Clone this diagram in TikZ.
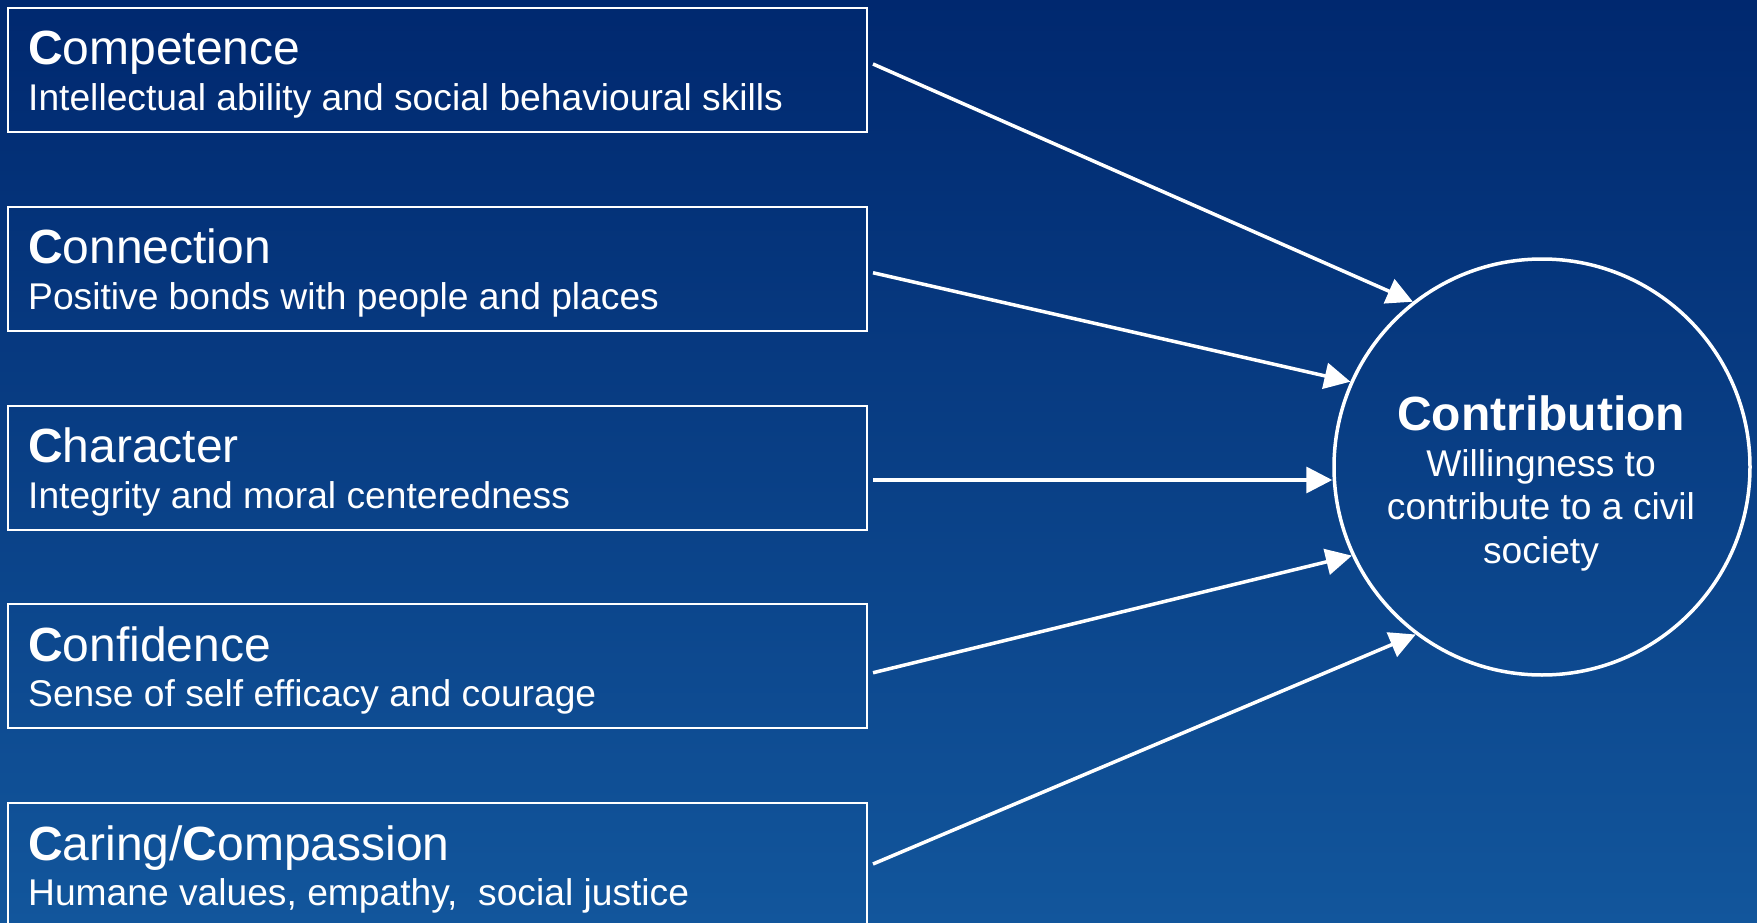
\documentclass[tikz,border=0pt]{standalone}
\usepackage{fontspec}
\setmainfont{Liberation Sans}
\usetikzlibrary{arrows.meta,calc}
\definecolor{bgtop}{HTML}{00286F}
\definecolor{bgbot}{HTML}{12569C}
\begin{document}
\begin{tikzpicture}[x=1pt,y=-1pt,
  cbox/.style={draw=white,line width=2pt,rectangle,minimum width=859pt,minimum height=124pt,anchor=north west,inner sep=0pt},
  ctitle/.style={text=white,anchor=base west,inner sep=0pt,font=\fontsize{48}{54}\selectfont},
  csub/.style={text=white,anchor=base west,inner sep=0pt,font=\fontsize{37.2}{43}\selectfont},
  conn/.style={white,line width=3.5pt,-{Triangle[length=26pt,width=26pt]}},
  ctext/.style={text=white,anchor=base,inner sep=0pt,font=\fontsize{37.2}{43}\selectfont},
]
\useasboundingbox (0,0) rectangle (1757,923);
\clip (0,0) rectangle (1757,923);
\shade[top color=bgtop,bottom color=bgbot] (0,0) rectangle (1757,923);

\node[cbox] (b1) at (7,7) {};
\node[cbox] (b2) at (7,205.75) {};
\node[cbox] (b3) at (7,404.5) {};
\node[cbox] (b4) at (7,603.25) {};
\node[cbox] (b5) at (7,802) {};

\node[ctitle] (t1) at (28,65) {\textbf{C}ompetence};
\node[csub] (s1) at (28,110.5) {Intellectual ability and social behavioural skills};
\node[ctitle] (t2) at (28,263.75) {\textbf{C}onnection};
\node[csub] (s2) at (28,309.25) {Positive bonds with people and places};
\node[ctitle] (t3) at (28,462.5) {\textbf{C}haracter};
\node[csub] (s3) at (28,508) {Integrity and moral centeredness};
\node[ctitle] (t4) at (28,661.25) {\textbf{C}onfidence};
\node[csub] (s4) at (28,706.75) {Sense of self efficacy and courage};
\node[ctitle] (t5) at (28,860) {\textbf{C}aring/\textbf{C}ompassion};
\node[csub] (s5) at (28,905.5) {Humane values, empathy,~ social justice};

\node[draw=white,line width=3.5pt,circle,minimum size=416pt,inner sep=0pt] (c) at (1542,467) {};
\node[ctext,font=\bfseries\fontsize{48}{54}\selectfont] (ct) at (1541,430) {Contribution};
\node[ctext] (d1) at (1541,476) {Willingness to};
\node[ctext] (d2) at (1541,519) {contribute to a civil};
\node[ctext] (d3) at (1541,563) {society};

\draw[conn] ($(b1.east)+(5,-6)$) -- (c.128);
\draw[conn] ($(b2.east)+(5,4)$) -- (c.156);
\draw[conn] ($(b3.east |- c.west)+(5,13)$) -- ($(c.west)+(0,13)$);
\draw[conn] ($(b4.east)+(5,6.5)$) -- (c.205.5);
\draw[conn] ($(b5.east)+(5,-1)$) -- (c.233.5);
\end{tikzpicture}
\end{document}
